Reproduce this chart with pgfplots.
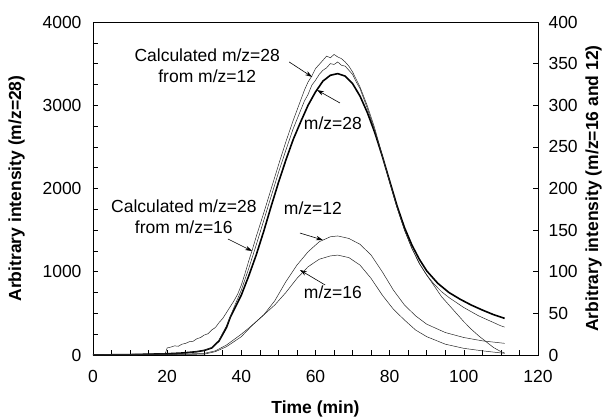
\documentclass[border=0pt]{standalone}
\usepackage{pgfplots}
\pgfplotsset{compat=1.18}
\usepackage{fontspec}
\setmainfont{Liberation Sans}
\usetikzlibrary{arrows.meta}

\newcommand\fs{\fontsize{17.5bp}{21bp}\selectfont}

\pgfplotsset{
  base/.style={
    width=445bp, height=333bp, scale only axis,
    xmin=0, xmax=120,
    tick label style={font=\fs},
    /pgf/number format/assume math mode=true,
    /pgf/number format/1000 sep={},
    major tick length=5bp, minor tick length=5bp,
    tick style={black, line width=0.6bp},
    axis line style={line width=0.8bp},
  },
}
\tikzset{
  thinline/.style={black!85, line width=0.5bp},
  arr/.style={-{Stealth[length=7bp,width=4.5bp]}, line width=0.6bp},
}

\begin{document}
\begin{tikzpicture}
\begin{axis}[base,
  ymin=0, ymax=4000,
  xtick={0,20,...,120}, minor xtick={5,10,...,115},
  ytick={0,1000,...,4000}, minor ytick={250,500,...,3750},
  xtick pos=bottom, ytick pos=left,
  xticklabel style={yshift=-12bp},
  yticklabel style={xshift=-8bp},
  xlabel={\fs\bfseries Time (min)},
  ylabel={\fs\bfseries Arbitrary intensity (m/z=28)},
  xlabel shift=11bp, ylabel shift=11bp,
  clip=false,
]
% m/z=28 measured (thick)
\addplot[black, line width=1.6bp] coordinates {
  (0,0) (10,5) (20,15) (24,24) (28,40) (30,55) (32,84) (34,170) (36,330)
  (37,450) (38,540) (40,720) (42,950) (44,1200) (46,1480) (48,1780)
  (50,2070) (52,2340) (54,2590) (56,2800) (58,3000) (60,3160) (62,3290)
  (64,3360) (66,3380) (68,3350) (70,3260) (72,3110) (74,2910) (76,2670)
  (78,2390) (80,2090) (82,1790) (84,1530) (86,1320) (88,1150) (90,1010)
  (93,860) (96,750) (99,670) (102,600) (105,540) (108,485) (111,440)
};
% calculated m/z=28 from m/z=12
\addplot[thinline] coordinates {
  (0,0) (10,5) (20,12) (25,22) (30,55) (32,90) (34,180) (36,350) (38,570)
  (40,780) (42,1040) (44,1320) (46,1610) (48,1900) (50,2190) (52,2460)
  (54,2720) (56,2940) (57,3050) (58,3130) (59,3240) (60,3300) (61,3370)
  (62,3420) (63,3450) (64,3500) (65,3490) (66,3520) (67,3480) (68,3470)
  (69,3420) (70,3370) (71,3280) (72,3200) (74,2960) (76,2690) (78,2390)
  (80,2080) (82,1770) (84,1500) (86,1280) (88,1100) (90,960) (92,850)
  (94,760) (96,690) (98,630) (100,570) (102,520) (104,470) (106,430)
  (108,390) (110,350) (111,335)
};
% calculated m/z=28 from m/z=16
\addplot[thinline] coordinates {
  (0,0) (5,5) (10,8) (15,12) (18,15) (19.5,20) (20,85) (21,95) (22,110)
  (23,105) (24,130) (25,140) (26,160) (27,165) (28,195) (29,210) (30,240)
  (31,255) (32,300) (33,330) (34,390) (35,440) (36,510) (37,580) (38,650)
  (39,730) (40,840) (41,980) (42,1130) (43,1270) (44,1420) (46,1700)
  (48,1990) (50,2280) (52,2560) (54,2820) (56,3060) (57,3180) (58,3280)
  (59,3350) (60,3440) (61,3490) (62,3540) (63,3590) (64,3570) (65,3610)
  (66,3580) (67,3560) (68,3520) (69,3470) (70,3400) (72,3220) (74,2990)
  (76,2720) (78,2400) (80,2070) (82,1770) (84,1500) (86,1280) (88,1100)
  (90,960) (92,830) (94,700) (96,600) (98,500) (100,400) (102,310)
  (104,230) (106,160) (108,90) (110,40) (111,25)
};
% annotations
\node[font=\fs, align=center] at (axis cs:30.8,3480) {Calculated m/z=28\\from m/z=12};
\draw[arr] (axis cs:52.9,3520) -- (axis cs:59.1,3340);
\node[font=\fs] at (axis cs:64.7,2787) {m/z=28};
\draw[arr] (axis cs:66.6,3027) -- (axis cs:60.4,3183);
\node[font=\fs, align=center] at (axis cs:24.5,1660) {Calculated m/z=28\\from m/z=16};
\draw[arr] (axis cs:36.4,1393) -- (axis cs:42.9,1249);
\node[font=\fs] at (axis cs:59.3,1766) {m/z=12};
\draw[arr] (axis cs:55.8,1465) -- (axis cs:62,1381);
\node[font=\fs] at (axis cs:64.7,757) {m/z=16};
\draw[arr] (axis cs:62.6,841) -- (axis cs:55.8,1021);
\end{axis}
\begin{axis}[base,
  ymin=0, ymax=400,
  axis x line=none, axis y line*=right,
  ytick={0,50,...,400},
  yticklabel style={xshift=7bp},
  ylabel={\fs\bfseries Arbitrary intensity (m/z=16 and 12)},
  ylabel shift=1bp,
]
% m/z=12
\addplot[thinline] coordinates {
  (0,0) (20,0.5) (30,2) (33,5) (36,12) (40,25) (43,36) (46,48) (49,65)
  (52,88) (55,108) (58,124) (61,136) (64,142) (66,143) (69,140) (72,133)
  (75,120) (78,100) (81,78) (84,60) (87,47) (90,37) (95,27) (100,21)
  (105,17) (111,14)
};
% m/z=16
\addplot[thinline] coordinates {
  (0,0) (20,0.5) (30,1) (33,4) (36,10) (40,22) (43,36) (46,48) (49,60)
  (52,75) (55,92) (58,106) (61,115) (64,119) (66,120) (69,117) (72,108)
  (75,92) (78,72) (81,55) (84,42) (87,30) (90,22) (95,13) (100,8)
  (105,5) (111,2)
};
\end{axis}
\pgfresetboundingbox
\path ([shift={(-93bp,-64bp)}]current axis.south west) rectangle ([shift={(69bp,22bp)}]current axis.north east);
\end{tikzpicture}
\end{document}
